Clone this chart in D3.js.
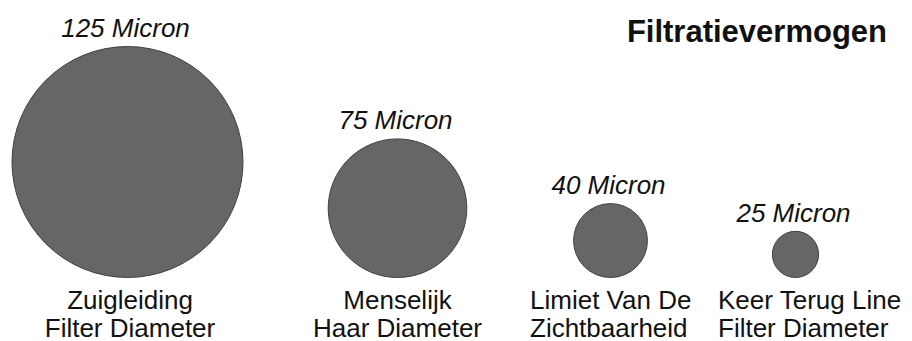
<!DOCTYPE html>
<html>
<head>
<meta charset="utf-8">
<script src="https://cdn.jsdelivr.net/npm/d3@7"></script>
<style>
  html, body { margin: 0; padding: 0; background: #fff; }
  svg { display: block; }
  text { font-family: "Liberation Sans", Arial, sans-serif; fill: #111; }
</style>
</head>
<body>
<div id="chart"></div>
<script>
// ---- data ----
const categories = ["Zuigleiding Filter Diameter", "Menselijk Haar Diameter", "Limiet Van De Zichtbaarheid", "Keer Terug Line Filter Diameter"];
const labelLines = [["Zuigleiding", "Filter Diameter"], ["Menselijk", "Haar Diameter"], ["Limiet Van De", "Zichtbaarheid"], ["Keer Terug Line", "Filter Diameter"]];
const micron = [125, 75, 40, 25];
const valueLabels = ["125 Micron", "75 Micron", "40 Micron", "25 Micron"];
const title = "Filtratievermogen";

// ---- layout ----
const W = 912, H = 341;
const baseY = 277.5;            // circles are bottom-aligned
const svg = d3.select("#chart").append("svg").attr("width", W).attr("height", H);

const x = d3.scaleOrdinal().domain(categories).range([127.5, 397.5, 610.5, 795.5]);
const r = d3.scaleLinear().domain([0, 125]).range([0, 115.5]);
const labelX = d3.scaleOrdinal().domain(categories).range([130, 397.5, 530, 718]);
const labelAnchor = d3.scaleOrdinal().domain(categories).range(["middle", "middle", "start", "start"]);

const data = categories.map((c, i) => ({ c, v: micron[i], lab: valueLabels[i], lines: labelLines[i] }));

const g = svg.selectAll("g.item").data(data).join("g").attr("class", "item");

g.append("circle")
  .attr("cx", d => x(d.c))
  .attr("cy", d => baseY - r(d.v))
  .attr("r", d => r(d.v))
  .attr("fill", "#666666")
  .attr("stroke", "#404040")
  .attr("stroke-width", 1);

g.append("text")
  .attr("x", d => x(d.c) - 2)
  .attr("y", d => baseY - 2 * r(d.v) - 9.5)
  .attr("text-anchor", "middle")
  .style("font-style", "italic")
  .style("font-size", "26px")
  .text(d => d.lab);

const lab = g.append("text")
  .attr("text-anchor", d => labelAnchor(d.c))
  .style("font-size", "26px");
lab.selectAll("tspan").data(d => d.lines.map(l => ({ l, d }))).join("tspan")
  .attr("x", t => labelX(t.d.c))
  .attr("y", (t, i) => 309 + i * 27.5)
  .text(t => t.l);

svg.append("text")
  .attr("x", 887)
  .attr("y", 41.5)
  .attr("text-anchor", "end")
  .style("font-weight", "bold")
  .style("font-size", "31px")
  .text(title);
</script>
</body>
</html>
